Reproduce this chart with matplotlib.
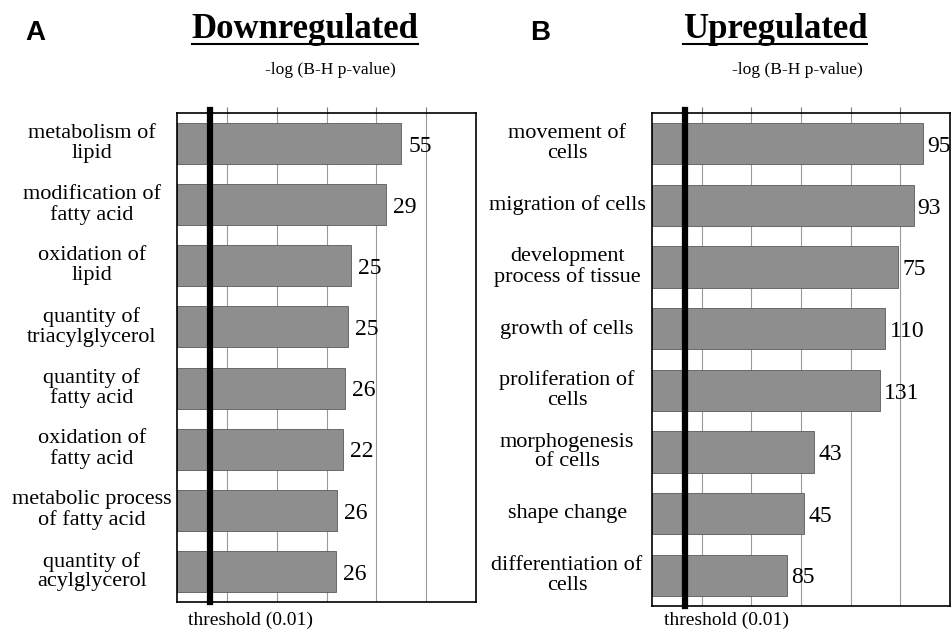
import numpy as np
import matplotlib.pyplot as plt
from matplotlib.lines import Line2D

plt.rcParams['font.family'] = ['Liberation Serif', 'DejaVu Serif']

# data (bar length = -log(B-H p-value), number = gene count)
down_terms = ['metabolism of\nlipid', 'modification of\nfatty acid', 'oxidation of\nlipid',
              'quantity of\ntriacylglycerol', 'quantity of\nfatty acid', 'oxidation of\nfatty acid',
              'metabolic process\nof fatty acid', 'quantity of\nacylglycerol']
down_logp = [13.5, 12.6, 10.5, 10.3, 10.1, 10.0, 9.65, 9.6]
down_counts = [55, 29, 25, 25, 26, 22, 26, 26]

up_terms = ['movement of\ncells', 'migration of cells', 'development\nprocess of tissue',
            'growth of cells', 'proliferation of\ncells', 'morphogenesis\nof cells',
            'shape change', 'differentiation of\ncells']
up_logp = [16.35, 15.8, 14.85, 14.1, 13.75, 9.8, 9.2, 8.15]
up_counts = [95, 93, 75, 110, 131, 43, 45, 85]

threshold = -np.log10(0.01)

W, H = 952, 633
fig = plt.figure(figsize=(W / 100, H / 100), dpi=100)


def panel(rect, terms, vals, counts, letter, title, letter_x, title_x, sub_x, thr_x, off):
    ax = fig.add_axes(rect)
    y = np.arange(len(terms))
    ax.set_xlim(0, 18)
    ax.set_ylim(len(terms) - 0.5, -0.5)
    ax.set_xticks([3, 6, 9, 12, 15])
    ax.grid(axis='x', color='#9a9a9a', lw=0.8, zorder=0)
    ax.barh(y, vals, height=0.67, color='#8e8e8e', edgecolor='#5a5a5a', lw=0.6, zorder=2)
    ax.axvline(threshold, color='black', lw=4.5, zorder=3, ymax=1.006, clip_on=False)
    for yi, v, c in zip(y, vals, counts):
        ax.annotate(str(c), (v, yi), xytext=(off, -2), textcoords='offset points',
                    va='center', ha='left', fontsize=17, annotation_clip=False)
    for yi, t in zip(y, terms):
        ax.text(-0.285, yi, t, transform=ax.get_yaxis_transform(), ha='center',
                va='center', multialignment='center', fontsize=16, linespacing=1.05)
    ax.set_yticks([])
    ax.tick_params(axis='x', top=True, bottom=False, labeltop=False, labelbottom=False,
                   direction='out', length=4, color='#777777')
    for s in ax.spines.values():
        s.set_linewidth(1.2)
    fig.text(letter_x / W, 1 - 33 / H, letter, family='Liberation Sans', weight='bold',
             fontsize=20, ha='left', va='center')
    t = fig.text(title_x / W, 1 - 29 / H, title, weight='bold', fontsize=25,
                 ha='center', va='center')
    fig.text(sub_x / W, 1 - 70 / H, '-log (B-H p-value)', fontsize=12.6, ha='center', va='center')
    fig.text(thr_x / W, 1 - 620 / H, 'threshold (0.01)', fontsize=14, ha='left', va='center')
    return t


titles = [
    panel([177 / W, 31 / H, 299 / W, 489 / H], down_terms, down_logp, down_counts,
          'A', 'Downregulated', 25, 305, 330, 188, 5),
    panel([652 / W, 27 / H, 298 / W, 493 / H], up_terms, up_logp, up_counts,
          'B', 'Upregulated', 530, 775, 797, 664, 3),
]

# underline the panel titles
fig.canvas.draw()
r = fig.canvas.get_renderer()
for t in titles:
    bb = t.get_window_extent(r).transformed(fig.transFigure.inverted())
    fig.add_artist(Line2D([bb.x0, bb.x1], [bb.y0 + 0.003, bb.y0 + 0.003],
                          color='black', lw=1.5, transform=fig.transFigure))

fig.savefig('out.png', dpi=100)
